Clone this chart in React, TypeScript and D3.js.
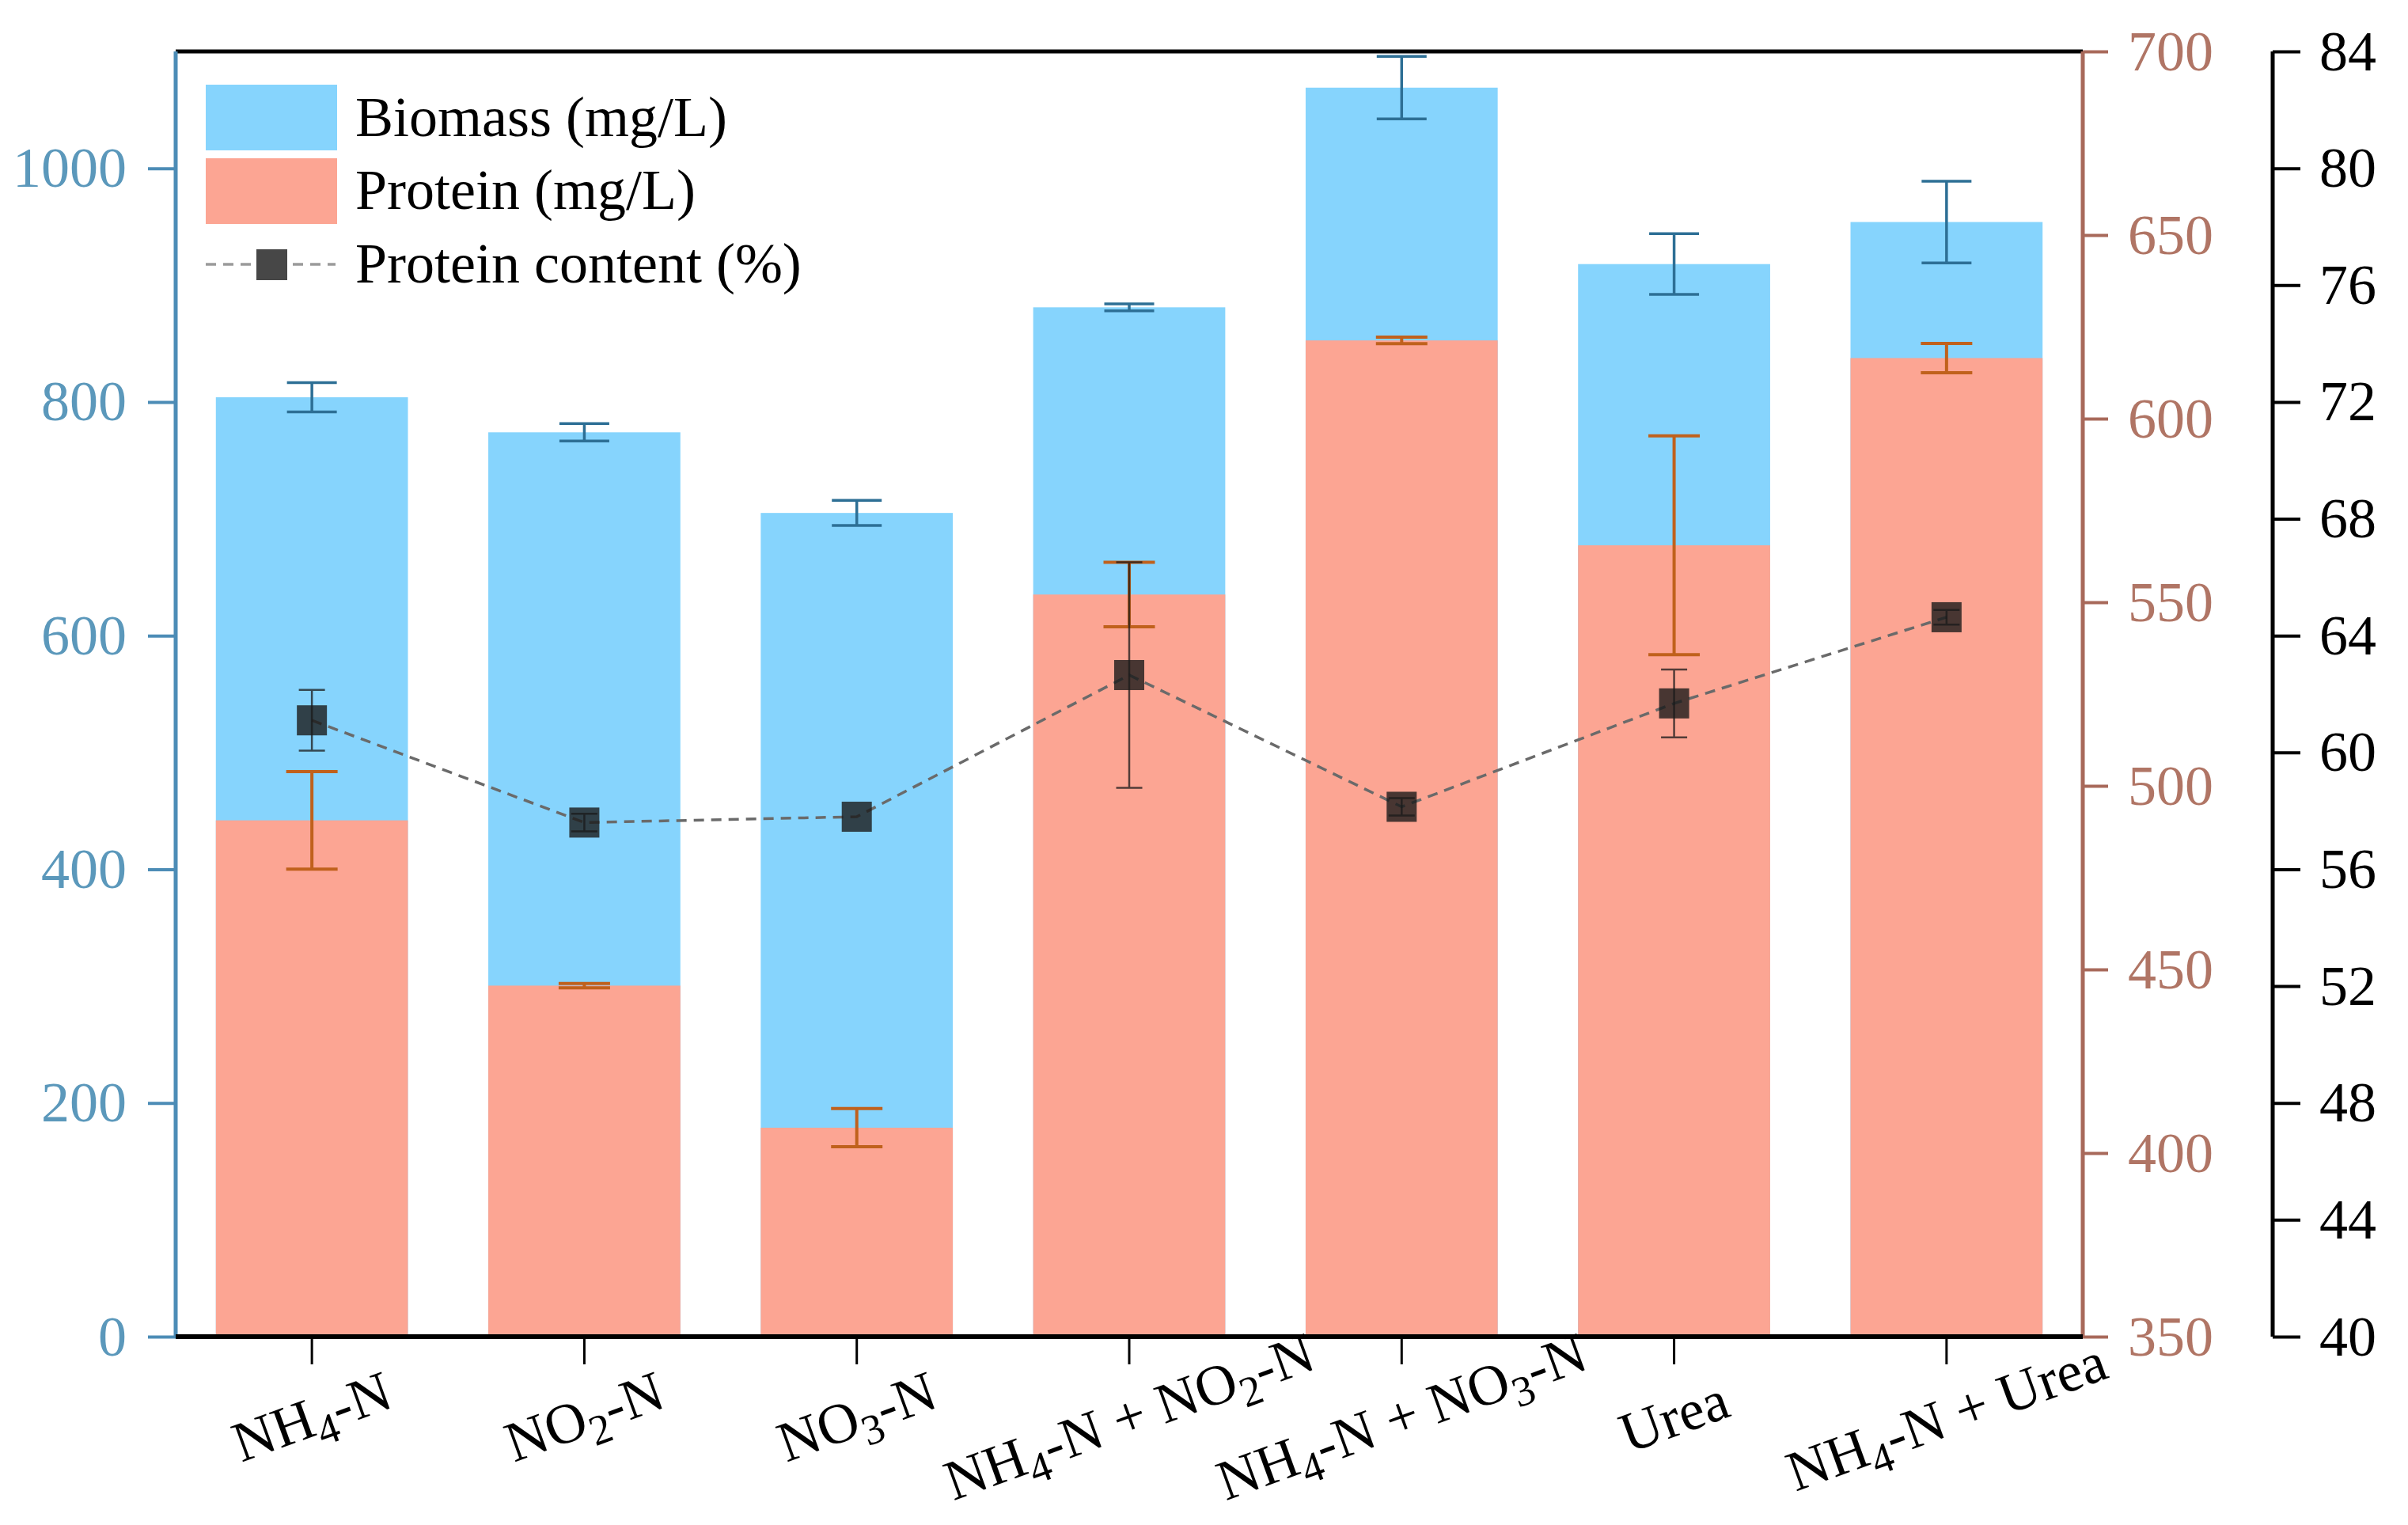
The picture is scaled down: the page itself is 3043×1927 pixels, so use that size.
import React, { useEffect, useRef } from 'react';
import * as d3 from 'd3';

// values
const categories = ['NH4-N', 'NO2-N', 'NO3-N', 'NH4-N + NO2-N', 'NH4-N + NO3-N', 'Urea', 'NH4-N + Urea'];
const biomass = [804, 774, 705, 881, 1069, 918, 954];
const biomassErr = [12.5, 7.5, 10.8, 3, 26.8, 26, 35];
const protein = [490.6, 445.6, 406.9, 552.1, 621.3, 565.5, 616.5];
const proteinErr = [13.3, 0.6, 5.2, 8.8, 0.9, 29.8, 4];
const content = [61.1, 57.6, 57.8, 62.65, 58.14, 61.68, 64.63];
const contentErr = [1.04, 0.3, 0, 3.86, 0.3, 1.16, 0.25];

const leftMajor = [0, 200, 400, 600, 800, 1000];
const leftMinor = [100, 300, 500, 700, 900, 1100];
const protMajor = [350, 400, 450, 500, 550, 600, 650, 700];
const protMinor = [375, 425, 475, 525, 575, 625, 675];
const contMajor = [40, 44, 48, 52, 56, 60, 64, 68, 72, 76, 80, 84];
const contMinor = [42, 46, 50, 54, 58, 62, 66, 70, 74, 78, 82];

const W = 3043;
const H = 1927;
const FONT = '"Liberation Serif", "Times New Roman", serif';

const Chart: React.FC = () => {
    const svgRef = useRef<SVGSVGElement | null>(null);

    useEffect(() => {
        if (!svgRef.current) return;
        const svg = d3.select(svgRef.current);
        svg.selectAll('*').remove();

        const left = 222, right = 2632, top = 65, bottom = 1689, thirdX = 2872;

        const x = d3.scaleBand<string>()
            .domain(categories)
            .range([left, right])
            .paddingInner(0.295)
            .paddingOuter(0.1475);
        const yBio = d3.scaleLinear().domain([0, 1100]).range([bottom, top]);
        const yProt = d3.scaleLinear().domain([350, 700]).range([bottom, top]);
        const yCont = d3.scaleLinear().domain([40, 84]).range([bottom, top]);
        const cx = (c: string) => (x(c) as number) + x.bandwidth() / 2;

        // bars
        svg.append('g').selectAll('rect').data(categories).enter().append('rect')
            .attr('x', (d) => x(d) as number)
            .attr('width', x.bandwidth())
            .attr('y', (_, i) => yBio(biomass[i]))
            .attr('height', (_, i) => bottom - yBio(biomass[i]))
            .attr('fill', '#86d4fd');
        svg.append('g').selectAll('rect').data(categories).enter().append('rect')
            .attr('x', (d) => x(d) as number)
            .attr('width', x.bandwidth())
            .attr('y', (_, i) => yProt(protein[i]))
            .attr('height', (_, i) => bottom - yProt(protein[i]))
            .attr('fill', '#fca593');

        const errorBars = (vals: number[], errs: number[], y: d3.ScaleLinear<number, number>, color: string, cap: number, sw: number, opacity = 1) => {
            const g = svg.append('g').attr('stroke', color).attr('stroke-width', sw).attr('opacity', opacity);
            categories.forEach((c, i) => {
                if (!errs[i]) return;
                const xc = cx(c);
                const y0 = y(vals[i] + errs[i]);
                const y1 = y(vals[i] - errs[i]);
                g.append('line').attr('x1', xc).attr('x2', xc).attr('y1', y0).attr('y2', y1);
                g.append('line').attr('x1', xc - cap / 2).attr('x2', xc + cap / 2).attr('y1', y0).attr('y2', y0);
                g.append('line').attr('x1', xc - cap / 2).attr('x2', xc + cap / 2).attr('y1', y1).attr('y2', y1);
            });
        };
        errorBars(biomass, biomassErr, yBio, '#2d6f95', 63, 3.5);
        errorBars(protein, proteinErr, yProt, '#c0611c', 65, 4);

        // protein content line
        const line = d3.line<number>()
            .x((_, i) => cx(categories[i]))
            .y((d) => yCont(d));
        svg.append('path')
            .datum(content)
            .attr('d', line)
            .attr('fill', 'none')
            .attr('stroke', '#6a6a6a')
            .attr('stroke-width', 3.5)
            .attr('stroke-dasharray', '13,9');
        svg.append('g').selectAll('rect').data(content).enter().append('rect')
            .attr('x', (_, i) => cx(categories[i]) - 19)
            .attr('y', (d) => yCont(d) - 19)
            .attr('width', 38)
            .attr('height', 38)
            .attr('fill', '#1a1a1a')
            .attr('opacity', 0.8);
        errorBars(content, contentErr, yCont, '#1a1a1a', 33, 2.5, 0.75);

        // frame lines
        svg.append('line').attr('x1', left).attr('x2', right).attr('y1', top).attr('y2', top)
            .attr('stroke', '#000').attr('stroke-width', 5);

        const styleAxis = (g: d3.Selection<SVGGElement, unknown, null, undefined>, color: string, textColor: string, sw: number) => {
            g.select('.domain').attr('stroke', color).attr('stroke-width', sw);
            g.selectAll('.tick line').attr('stroke', color).attr('stroke-width', 4);
            g.selectAll('.tick text').attr('fill', textColor)
                .attr('font-family', FONT).attr('font-size', 72);
        };
        const fmt = d3.format('d');

        // left axis (biomass)
        const gl = svg.append('g').attr('transform', `translate(${left},0)`);
        gl.call(d3.axisLeft(yBio).tickValues(leftMinor).tickSize(20).tickSizeOuter(0).tickFormat(() => ''));
        gl.call(d3.axisLeft(yBio).tickValues(leftMajor).tickSize(35).tickSizeOuter(0).tickPadding(27).tickFormat((d) => fmt(d as number)));
        styleAxis(gl, '#4c8cb6', '#5b98bb', 5);
        gl.select('.domain').attr('d', `M0,${top}V${bottom}`);

        // right axis (protein)
        const gr = svg.append('g').attr('transform', `translate(${right},0)`);
        gr.call(d3.axisRight(yProt).tickValues(protMinor).tickSize(16).tickSizeOuter(0).tickFormat(() => ''));
        gr.call(d3.axisRight(yProt).tickValues(protMajor).tickSize(32).tickSizeOuter(0).tickPadding(25).tickFormat((d) => fmt(d as number)));
        styleAxis(gr, '#a8695a', '#b07565', 5);
        gr.select('.domain').attr('d', `M0,${top}V${bottom}`);

        // third axis (protein content)
        const gc = svg.append('g').attr('transform', `translate(${thirdX},0)`);
        gc.call(d3.axisRight(yCont).tickValues(contMinor).tickSize(17).tickSizeOuter(0).tickFormat(() => ''));
        gc.call(d3.axisRight(yCont).tickValues(contMajor).tickSize(35).tickSizeOuter(0).tickPadding(24).tickFormat((d) => fmt(d as number)));
        styleAxis(gc, '#000', '#000', 5);
        gc.select('.domain').attr('d', `M0,${top}V${bottom}`);

        // bottom axis
        const gb = svg.append('g').attr('transform', `translate(0,${bottom})`);
        gb.call(d3.axisBottom(x).tickSize(35).tickSizeOuter(0).tickFormat(() => ''));
        gb.select('.domain').attr('stroke', '#000').attr('stroke-width', 6).attr('d', `M${left},0H${right}`);
        gb.selectAll('.tick line').attr('stroke', '#000').attr('stroke-width', 3);

        // category labels with subscripts
        const labels = svg.append('g').attr('font-family', FONT).attr('font-size', 72).attr('fill', '#000');
        categories.forEach((c) => {
            const t = labels.append('text')
                .attr('text-anchor', 'middle')
                .attr('dominant-baseline', 'central')
                .attr('transform', `translate(${cx(c)},1790) rotate(-20)`);
            c.split(/(\d)/).filter((s) => s.length).forEach((part, k, arr) => {
                const isSub = /^\d$/.test(part);
                const prevSub = k > 0 && /^\d$/.test(arr[k - 1]);
                const ts = t.append('tspan').text(part);
                if (isSub) ts.attr('font-size', 54).attr('dy', 22);
                else if (prevSub) ts.attr('dy', -22);
            });
        });

        // legend
        const lg = svg.append('g').attr('font-family', FONT).attr('font-size', 72);
        lg.append('rect').attr('x', 260).attr('y', 107).attr('width', 166).attr('height', 83).attr('fill', '#86d4fd');
        lg.append('rect').attr('x', 260).attr('y', 200).attr('width', 166).attr('height', 83).attr('fill', '#fca593');
        lg.append('line').attr('x1', 260).attr('x2', 424).attr('y1', 334).attr('y2', 334)
            .attr('stroke', '#9a9a9a').attr('stroke-width', 3.5).attr('stroke-dasharray', '13,9');
        lg.append('rect').attr('x', 324).attr('y', 315).attr('width', 39).attr('height', 39).attr('fill', '#474747');
        lg.append('text').attr('x', 449).attr('y', 172).text('Biomass (mg/L)');
        lg.append('text').attr('x', 449).attr('y', 264).text('Protein (mg/L)');
        lg.append('text').attr('x', 449).attr('y', 357).text('Protein content (%)');
    }, []);

    return (
        <svg ref={svgRef} width={W} height={H} style={{ position: 'absolute', left: 0, top: 0, background: '#fff' }}></svg>
    );
};

export default function App() {
    return <Chart />;
}
